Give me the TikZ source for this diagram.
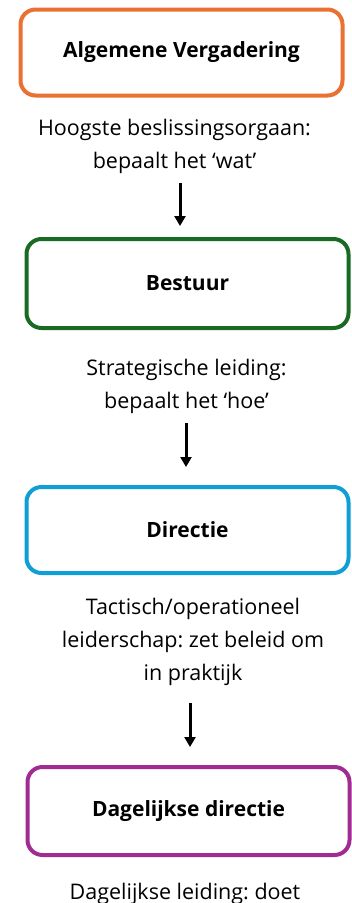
\documentclass[tikz,border=0pt]{standalone}
\usepackage{fontspec}
\setmainfont{Open Sans}
\frenchspacing
\usetikzlibrary{arrows.meta}
\definecolor{acOrange}{HTML}{E97132}
\definecolor{acGreen}{HTML}{196B24}
\definecolor{acBlue}{HTML}{0F9ED5}
\definecolor{acPurple}{HTML}{A02B93}
\tikzset{
  orgbox/.style={draw, line width=4pt, rounded corners=15pt, fill=white,
    minimum width=322pt, minimum height=86pt, inner sep=0pt,
    font=\fontsize{21}{25}\selectfont\bfseries},
  desc/.style={align=center, inner sep=0pt, font=\fontsize{21.5}{33}\selectfont},
  flow/.style={line width=3pt, -{Triangle[width=11pt,length=10pt]}}
}
\begin{document}
\begin{tikzpicture}[x=1pt,y=-1pt]
\useasboundingbox (0,0) rectangle (352,903);
\clip (0,0) rectangle (352,903);
\node[orgbox, draw=acOrange] (b1) at (181.5,52.5) {Algemene Vergadering};
\node[desc] (t1) at (174.5,146.5) {Hoogste beslissingsorgaan:\\bepaalt het ‘wat’};
\coordinate (a1s) at (180,183);
\coordinate (a1e) at (180,226);
\draw[flow] (a1s) -- (a1e);

\node[orgbox, draw=acGreen, minimum height=89pt] (b2) at (187.5,283.5) {Bestuur};
\node[desc] (t2) at (186.5,386.5) {Strategische leiding:\\bepaalt het ‘hoe’};
\coordinate (a2s) at (186,423);
\coordinate (a2e) at (186,467);
\draw[flow] (a2s) -- (a2e);

\node[orgbox, draw=acBlue] (b3) at (187.5,530) {Directie};
\node[desc] (t3) at (193,641.5) {Tactisch/operationeel\\leiderschap: zet beleid om\\in praktijk};
\coordinate (a3s) at (190,703);
\coordinate (a3e) at (190,747);
\draw[flow] (a3s) -- (a3e);

\node[orgbox, draw=acPurple, minimum height=88pt] (b4) at (188.5,811) {Dagelijkse directie};
\node[desc, anchor=base] (t4) at (185,899) {Dagelijkse leiding: doet};
\end{tikzpicture}
\end{document}
